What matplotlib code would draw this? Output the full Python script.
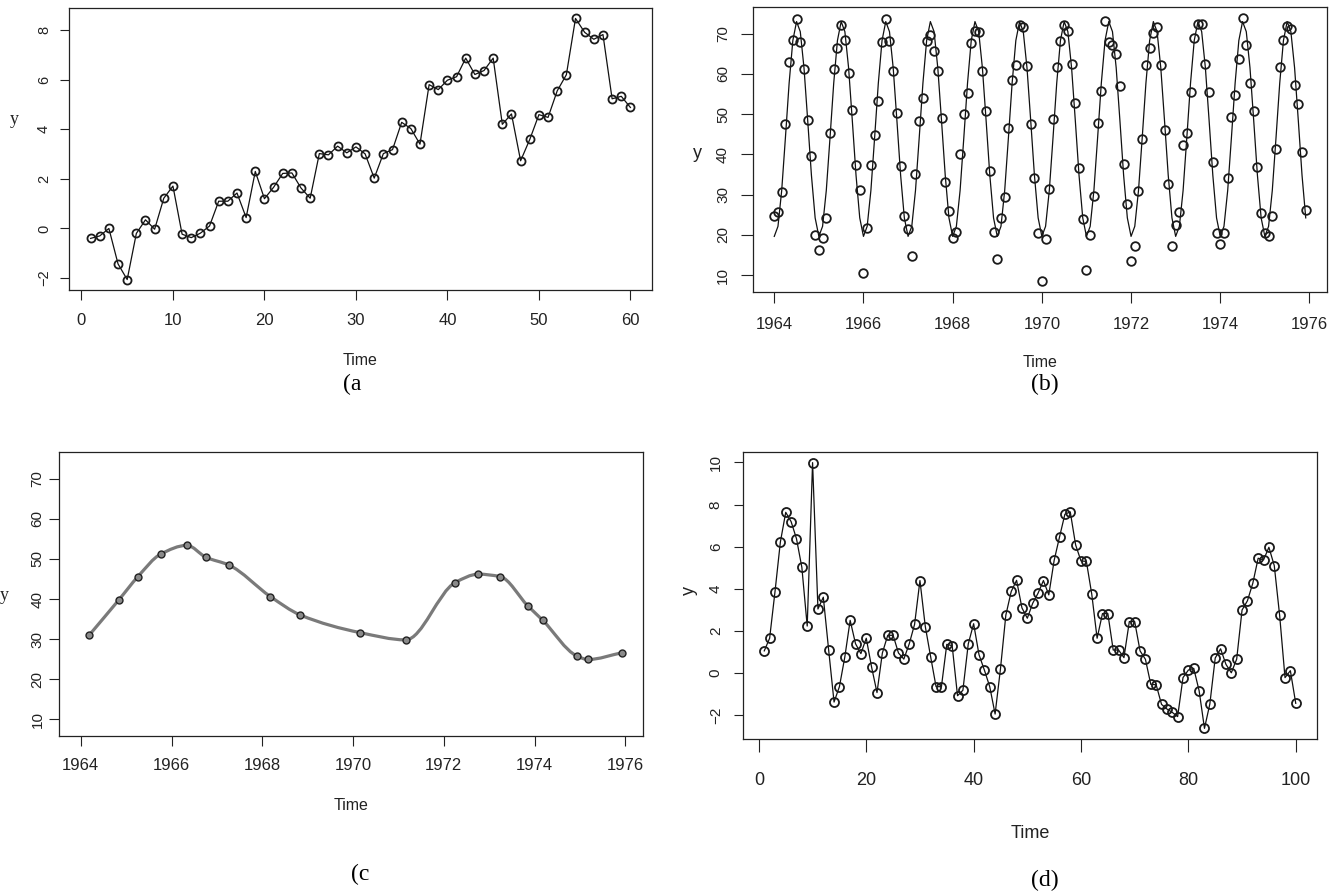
import matplotlib
matplotlib.use("Agg")
import matplotlib.pyplot as plt
import numpy as np
from matplotlib.path import Path
from matplotlib.patches import PathPatch
from matplotlib import font_manager as fm

# ---------------- data ----------------
# (a) 60-point series
a_time = list(range(1, 61))
a_values = [-0.40, -0.30, 0.00, -1.43, -2.06, -0.20, 0.35, -0.03, 1.22, 1.71,
            -0.23, -0.37, -0.19, 0.10, 1.10, 1.10, 1.43, 0.44, 2.30, 1.20,
            1.66, 2.22, 2.24, 1.63, 1.22, 3.02, 2.97, 3.32, 3.05, 3.29,
            3.01, 2.03, 3.02, 3.18, 4.28, 4.03, 3.40, 5.80, 5.60, 5.98,
            6.12, 6.87, 6.21, 6.37, 6.87, 4.20, 4.62, 2.73, 3.59, 4.59,
            4.48, 5.55, 6.20, 8.47, 7.91, 7.63, 7.82, 5.23, 5.33, 4.88]

# (b) monthly series 1964-1975 and the fitted seasonal (cosine) curve values per month
b_start_year = 1964
b_values = [
    24.7, 25.7, 30.6, 47.5, 62.9, 68.5, 73.7, 67.9, 61.1, 48.5, 39.6, 20.0,
    16.1, 19.1, 24.2, 45.4, 61.3, 66.5, 72.1, 68.4, 60.2, 50.9, 37.4, 31.1,
    10.4, 21.6, 37.4, 44.7, 53.2, 68.0, 73.7, 68.2, 60.7, 50.2, 37.2, 24.6,
    21.5, 14.7, 35.0, 48.3, 54.0, 68.2, 69.6, 65.7, 60.8, 49.1, 33.2, 26.0,
    19.1, 20.6, 40.2, 50.0, 55.3, 67.7, 70.7, 70.3, 60.6, 50.7, 35.8, 20.7,
    14.0, 24.1, 29.4, 46.6, 58.6, 62.2, 72.1, 71.7, 61.9, 47.6, 34.2, 20.4,
    8.4, 19.0, 31.4, 48.7, 61.6, 68.1, 72.2, 70.6, 62.5, 52.7, 36.7, 23.8,
    11.2, 20.0, 29.6, 47.7, 55.8, 73.2, 68.0, 67.1, 64.9, 57.1, 37.6, 27.7,
    13.4, 17.2, 30.8, 43.7, 62.3, 66.4, 70.2, 71.6, 62.1, 46.0, 32.7, 17.3,
    22.5, 25.7, 42.3, 45.2, 55.5, 68.9, 72.3, 72.3, 62.5, 55.6, 38.0, 20.4,
    17.6, 20.5, 34.2, 49.2, 54.8, 63.8, 74.0, 67.1, 57.7, 50.8, 36.8, 25.5,
    20.4, 19.6, 24.6, 41.3, 61.8, 68.5, 72.0, 71.1, 57.3, 52.5, 40.6, 26.2]
b_fitted_month = [19.6, 22.1, 31.0, 44.1, 57.7, 68.3, 73.0, 70.5, 61.5, 48.4, 34.8, 24.2]

# (c) smoothed series
c_time = [1964.18, 1964.84, 1965.26, 1965.76, 1966.34, 1966.76, 1967.26, 1968.18,
          1968.84, 1970.16, 1971.16, 1972.25, 1972.76, 1973.24, 1973.85, 1974.18,
          1974.93, 1975.18, 1975.93]
c_values = [30.9, 39.8, 45.6, 51.2, 53.4, 50.4, 48.5, 40.6, 36.0, 31.6, 29.8,
            44.1, 46.2, 45.6, 38.3, 34.7, 25.8, 24.9, 26.6]

# (d) 100-point series
d_time = list(range(1, 101))
d_values = [1.05, 1.65, 3.86, 6.22, 7.63, 7.19, 6.38, 5.02, 2.23, 9.99,
            3.04, 3.60, 1.08, -1.38, -0.65, 0.75, 2.50, 1.39, 0.92, 1.65,
            0.27, -0.93, 0.95, 1.79, 1.79, 0.95, 0.66, 1.38, 2.31, 4.39,
            2.20, 0.76, -0.65, -0.65, 1.36, 1.30, -1.08, -0.82, 1.38, 2.34,
            0.87, 0.14, -0.65, -1.95, 0.20, 2.75, 3.87, 4.40, 3.09, 2.60,
            3.31, 3.79, 4.39, 3.71, 5.35, 6.46, 7.54, 7.65, 6.08, 5.32,
            5.30, 3.75, 1.65, 2.82, 2.82, 1.09, 1.09, 0.73, 2.44, 2.44,
            1.05, 0.65, -0.54, -0.56, -1.49, -1.71, -1.87, -2.07, -0.22, 0.14,
            0.22, -0.84, -2.63, -1.47, 0.71, 1.15, 0.41, 0.01, 0.66, 2.99,
            3.43, 4.26, 5.45, 5.37, 5.97, 5.10, 2.74, -0.22, 0.11, -1.44]

year_ticks = [1964, 1966, 1968, 1970, 1972, 1974, 1976]
captions = ["(a", "(b)", "(c", "(d)"]

# ---------------- fonts ----------------
names = {f.name for f in fm.fontManager.ttflist}
SANS = "Liberation Sans" if "Liberation Sans" in names else "DejaVu Sans"
NARROW = "Liberation Sans Narrow" if "Liberation Sans Narrow" in names else SANS
SERIF = "Liberation Serif" if "Liberation Serif" in names else "DejaVu Serif"
plt.rcParams["font.family"] = [SANS, "DejaVu Sans"]

W, H = 1340, 896
fig = plt.figure(figsize=(W / 100, H / 100), dpi=100)
fig.patch.set_facecolor("white")


def rect(l, t, r, b):
    return [l / W, 1 - b / H, (r - l) / W, (b - t) / H]


def style(ax, xlen, ylen, xpad, ypad, xsize, ysize):
    for s in ax.spines.values():
        s.set_linewidth(0.9)
        s.set_color("#222222")
    ax.tick_params(axis="x", direction="out", length=xlen, width=0.8, pad=xpad,
                   labelsize=xsize, colors="#222222")
    ax.tick_params(axis="y", direction="out", length=ylen, width=0.8, pad=ypad,
                   labelsize=ysize, colors="#222222")
    for lab in ax.get_xticklabels():
        lab.set_family([NARROW, "DejaVu Sans"])
    for lab in ax.get_yticklabels():
        lab.set_rotation(90)
        lab.set_va("center")
        lab.set_ha("right")


MK = dict(mfc="none", mec="#1a1a1a", mew=1.3)

# ---- (a) ----
axa = fig.add_axes(rect(69, 8, 652, 290))
axa.plot(a_time, a_values, color="#111111", lw=0.9, marker="o", ms=5.8, **MK)
axa.margins(x=0.04, y=0.04)
axa.set_xticks([0, 10, 20, 30, 40, 50, 60])
axa.set_yticks([-2, 0, 2, 4, 6, 8])
style(axa, 7, 6.5, 9.5, 6.5, 12, 10.5)

# ---- (b) ----
axb = fig.add_axes(rect(753, 7, 1327, 292))
b_time = [b_start_year + i / 12 for i in range(len(b_values))]
b_fit = [b_fitted_month[i % 12] for i in range(len(b_values))]
axb.plot(b_time, b_fit, color="#111111", lw=0.9)
axb.plot(b_time, b_values, ls="none", marker="o", ms=6.2, **MK)
axb.margins(x=0.04, y=0.04)
axb.set_xticks(year_ticks)
axb.set_yticks([10, 20, 30, 40, 50, 60, 70])
style(axb, 8, 9, 10, 7.5, 12, 11)

# ---- (c) ----
axc = fig.add_axes(rect(59, 452, 643, 736))
xs = np.asarray(c_time, float)
ys = np.asarray(c_values, float)
n = len(xs)
h = np.diff(xs)
sec = np.diff(ys) / h
slope = np.zeros(n)
for i in range(1, n - 1):
    if sec[i - 1] * sec[i] > 0:
        w1 = 2 * h[i] + h[i - 1]
        w2 = h[i] + 2 * h[i - 1]
        slope[i] = (w1 + w2) / (w1 / sec[i - 1] + w2 / sec[i])
slope[0] = sec[0]
slope[-1] = sec[-1]
verts = [(xs[0], ys[0])]
codes = [Path.MOVETO]
for i in range(n - 1):
    d = h[i] / 3.0
    verts += [(xs[i] + d, ys[i] + slope[i] * d),
              (xs[i + 1] - d, ys[i + 1] - slope[i + 1] * d),
              (xs[i + 1], ys[i + 1])]
    codes += [Path.CURVE4] * 3
axc.add_patch(PathPatch(Path(verts, codes), facecolor="none", edgecolor="#7a7a7a",
                        lw=2.3, capstyle="round", joinstyle="round"))
axc.plot(c_time, c_values, ls="none", marker="o", ms=5.0, mfc="#8a8a8a",
         mec="#222222", mew=1.0)
axc.set_xlim(1963.52, 1976.39)
axc.set_ylim(5.8, 76.7)
axc.set_xticks(year_ticks)
axc.set_yticks([10, 20, 30, 40, 50, 60, 70])
style(axc, 7, 7, 8.5, 3.5, 12, 11)

# ---- (d) ----
axd = fig.add_axes(rect(743, 452, 1317, 739))
axd.plot(d_time, d_values, color="#111111", lw=0.9, marker="o", ms=6.5, **MK)
axd.margins(x=0.04, y=0.04)
axd.set_xticks([0, 20, 40, 60, 80, 100])
axd.set_yticks([-2, 0, 2, 4, 6, 8, 10])
style(axd, 9.5, 6.5, 14, 8, 13, 11)

# ---------------- labels ----------------
def ftext(x, y, s, **kw):
    fig.text(x / W, 1 - y / H, s, ha="center", va="center", **kw)

ftext(360, 360, "Time", fontsize=11.5, family=[NARROW, "DejaVu Sans"], color="#222222")
ftext(1040, 362, "Time", fontsize=11.5, family=[NARROW, "DejaVu Sans"], color="#222222")
ftext(351, 805, "Time", fontsize=11.5, family=[NARROW, "DejaVu Sans"], color="#222222")
ftext(1030, 833, "Time", fontsize=13, family=[NARROW, "DejaVu Sans"], color="#222222")

ftext(14, 120, "y", fontsize=13, family=[SERIF, "DejaVu Serif"], color="#222222")
ftext(697, 153, "y", fontsize=13, color="#222222")
ftext(4, 596, "y", fontsize=13, family=[SERIF, "DejaVu Serif"], color="#222222")
ftext(689, 590, "y", fontsize=13, color="#222222", rotation=90)

ftext(352, 384, captions[0], fontsize=17, family=[SERIF, "DejaVu Serif"])
ftext(1045, 384, captions[1], fontsize=17, family=[SERIF, "DejaVu Serif"])
ftext(360, 874, captions[2], fontsize=17, family=[SERIF, "DejaVu Serif"])
ftext(1045, 880, captions[3], fontsize=17, family=[SERIF, "DejaVu Serif"])

fig.savefig("out.png", dpi=100, facecolor="white")
